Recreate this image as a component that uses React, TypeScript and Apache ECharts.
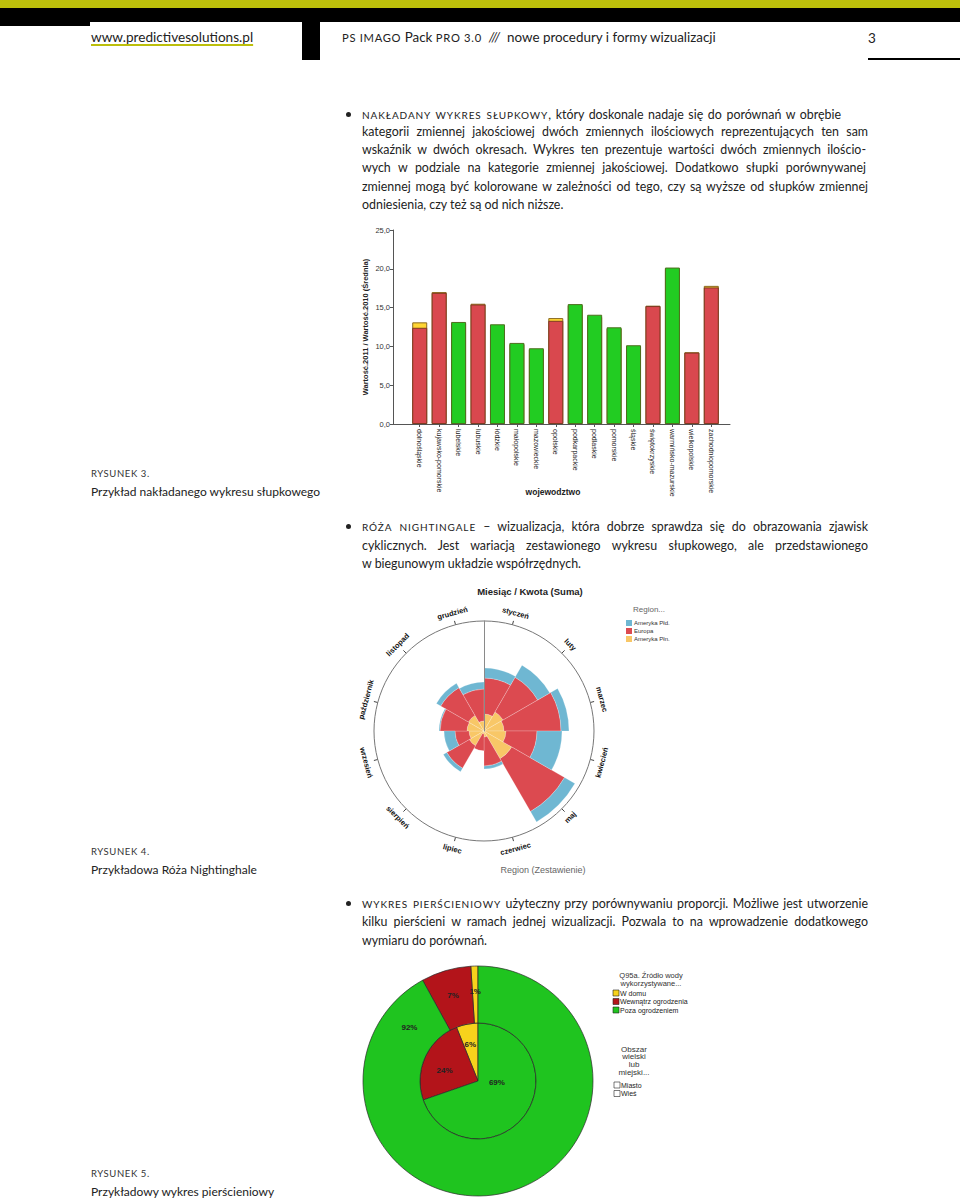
import React, { useEffect, useRef } from "react";
import * as echarts from "echarts";

const CF = "'Liberation Sans', Arial, sans-serif";
const TF = "Lato, 'Open Sans', sans-serif";

// ---- Rysunek 3: nakładany wykres słupkowy ----
const provinces = [
  "dolnośląskie", "kujawsko-pomorskie", "lubelskie", "lubuskie", "łódzkie", "małopolskie",
  "mazowieckie", "opolskie", "podkarpackie", "podlaskie", "pomorskie", "śląskie",
  "świętokrzyskie", "warmińsko-mazurskie", "wielkopolskie", "zachodniopomorskie",
];
const value2010 = [13.1, 17.0, 13.0, 15.5, 12.2, 10.3, 9.6, 13.65, 15.3, 13.8, 12.3, 10.0, 15.25, 20.0, 9.25, 17.8];
const value2011 = [12.4, 16.9, 13.15, 15.4, 12.85, 10.45, 9.76, 13.3, 15.45, 14.08, 12.46, 10.15, 15.2, 20.16, 9.2, 17.6];
const barYMax = 25;
const barYStep = 5;

// ---- Rysunek 4: róża Nightingale ----
const months = [
  "styczeń", "luty", "marzec", "kwiecień", "maj", "czerwiec",
  "lipiec", "sierpień", "wrzesień", "październik", "listopad", "grudzień",
];
const amerykaPln = [17, 22, 20, 22, 32, 6, 3, 17, 15, 17, 18, 10];
const europa = [36, 40, 57, 31, 61, 29, 17, 26, 14, 27, 32, 32];
const amerykaPld = [10, 14, 8, 25, 12, 3, 0, 4, 11, 1, 5, 7];
const roseMax = 110;
const roseRegions = ["Ameryka Płd.", "Europa", "Ameryka Płn."];

// ---- Rysunek 5: wykres pierścieniowy ----
const waterSources = ["W domu", "Wewnątrz ogrodzenia", "Poza ogrodzeniem"];
const miasto = [6, 24, 69];
const wies = [1, 7, 92];
const areas = ["Miasto", "Wieś"];

const C_BLUE = "#6FB7D2";
const C_RED = "#DC4A50";
const C_YEL = "#F8C767";
const R_YEL = "#F7D21C";
const R_RED = "#B3141A";
const R_GRN = "#1FC41F";

function App() {
  const ref = useRef<HTMLDivElement>(null);
  useEffect(() => {
    if (!ref.current) return;
    const chart = echarts.init(ref.current, null, { renderer: "svg" });

    const cx = 484, cy = 731, R = 110;
    const roseLabels = months.map((m, i) => {
      const deg = 15 + 30 * i;
      const rad = (deg * Math.PI) / 180;
      const lr = R + 12;
      const rot = deg > 90 && deg < 270 ? deg - 180 : deg;
      return {
        type: "text",
        x: cx + lr * Math.sin(rad),
        y: cy - lr * Math.cos(rad),
        rotation: (-rot * Math.PI) / 180,
        style: { text: m, font: `bold 7.5px ${CF}`, fill: "#111", align: "center", verticalAlign: "middle" },
      };
    });

    const pcx = 478, pcy = 1081;
    const ringPos = (ccwDeg: number, r: number) => {
      const a = (ccwDeg * Math.PI) / 180;
      return { x: pcx - r * Math.sin(a), y: pcy - r * Math.cos(a) };
    };

    const roseColors = [C_BLUE, C_RED, C_YEL];
    const ringColors = [R_YEL, R_RED, R_GRN];

    const option: any = {
      animation: false,
      backgroundColor: "transparent",
      textStyle: { fontFamily: CF },
      grid: [
        { left: 393, top: 230, width: 337, height: 194 },
        { left: 410, top: 230, width: 311, height: 194 },
      ],
      xAxis: [
        {
          gridIndex: 0, type: "value", min: 0, max: 1,
          axisLine: { show: true, lineStyle: { color: "#555", width: 1 } },
          axisTick: { show: false }, axisLabel: { show: false }, splitLine: { show: false },
        },
        {
          gridIndex: 1, type: "category", data: provinces,
          axisLine: { show: false },
          axisTick: { show: true, alignWithLabel: true, length: 3, lineStyle: { color: "#555" } },
          axisLabel: { rotate: -90, fontSize: 7, color: "#222", margin: 5, fontFamily: CF, interval: 0 },
        },
      ],
      yAxis: [
        {
          gridIndex: 0, type: "value", min: 0, max: barYMax, interval: barYStep,
          axisLine: { show: true, lineStyle: { color: "#555" } },
          axisTick: { show: true, length: 3, lineStyle: { color: "#555" } },
          axisLabel: { formatter: (v: number) => v.toFixed(1).replace(".", ","), fontSize: 7.5, color: "#333", margin: 3, fontFamily: CF },
          splitLine: { show: false },
          name: "Wartość.2011 / Wartość.2010 (Średnia)", nameLocation: "middle", nameGap: 24,
          nameTextStyle: { fontWeight: "bold", fontSize: 7.5, color: "#222", fontFamily: CF },
        },
        { gridIndex: 1, type: "value", min: 0, max: barYMax, show: false },
      ],
      polar: { center: [cx, cy], radius: R },
      angleAxis: {
        type: "category", data: months, startAngle: 90, clockwise: true,
        axisLine: { lineStyle: { color: "#777", width: 1 } },
        axisTick: { show: true, alignWithLabel: true, length: 4, lineStyle: { color: "#444" } },
        axisLabel: { show: false }, splitLine: { show: false },
      },
      radiusAxis: {
        type: "value", min: 0, max: roseMax,
        axisLine: { show: true, lineStyle: { color: "#8a8a8a", width: 1 } },
        axisTick: { show: false }, axisLabel: { show: false }, splitLine: { show: false },
        z: 5,
      },
      series: [
        {
          type: "bar", name: "2010", xAxisIndex: 1, yAxisIndex: 1, data: value2010, barWidth: 15,
          itemStyle: { color: "#FFD633", borderColor: "#8A6A22", borderWidth: 1 },
        },
        {
          type: "bar", name: "2011", xAxisIndex: 1, yAxisIndex: 1, barGap: "-100%", barWidth: 15,
          data: value2011.map((v, i) => ({
            value: v,
            itemStyle: v >= value2010[i]
              ? { color: "#22CC22", borderColor: "#4E6E1E", borderWidth: 1 }
              : { color: "#D9484E", borderColor: "#7E3A22", borderWidth: 1 },
          })),
        },
        ...[
          { name: roseRegions[2], data: amerykaPln, color: C_YEL },
          { name: roseRegions[1], data: europa, color: C_RED },
          { name: roseRegions[0], data: amerykaPld, color: C_BLUE },
        ].map((s) => ({
          type: "bar", coordinateSystem: "polar", stack: "rose", name: s.name, data: s.data,
          barCategoryGap: "0%",
          itemStyle: { color: s.color, borderColor: "rgba(255,255,255,0.35)", borderWidth: 0.6 },
          z: 2,
        })),
        {
          type: "pie", name: areas[0], center: [pcx, pcy], radius: [0, 58], startAngle: 90, clockwise: false,
          data: waterSources.map((n, i) => ({ name: n, value: miasto[i], itemStyle: { color: ringColors[i] } })),
          itemStyle: { borderColor: "#2a2a2a", borderWidth: 0.7 },
          label: { show: true, position: "inside", formatter: "{c}%", fontSize: 8, fontWeight: "bold", color: "#222", fontFamily: CF },
          labelLine: { show: false },
          emphasis: { disabled: true },
          labelLayout: (p: any) =>
            p.dataIndex === 0 ? ringPos(12, 37) : p.dataIndex === 1 ? ringPos(73, 35) : ringPos(264, 19),
        },
        {
          type: "pie", name: areas[1], center: [pcx, pcy], radius: [58, 115], startAngle: 90, clockwise: false,
          data: waterSources.map((n, i) => ({ name: n, value: wies[i], itemStyle: { color: ringColors[i] } })),
          itemStyle: { borderColor: "#2a2a2a", borderWidth: 0.7 },
          label: { show: true, position: "inside", formatter: "{c}%", fontSize: 8, fontWeight: "bold", color: "#222", fontFamily: CF },
          labelLine: { show: false },
          emphasis: { disabled: true },
          labelLayout: (p: any) => (p.dataIndex === 2 ? ringPos(52, 87) : {}),
        },
      ],
      graphic: [
        { type: "text", x: 553, y: 492, style: { text: "wojewodztwo", font: `bold 8.5px ${CF}`, fill: "#222", align: "center", verticalAlign: "middle" } },
        { type: "text", x: 530, y: 591, style: { text: "Miesiąc / Kwota (Suma)", font: `bold 9.5px ${CF}`, fill: "#222", align: "center", verticalAlign: "middle" } },
        ...roseLabels,
        { type: "text", x: 633, y: 609, style: { text: "Region...", font: `8px ${CF}`, fill: "#666", align: "left", verticalAlign: "middle" } },
        ...roseRegions.map((n, i) => ({
          type: "group", children: [
            { type: "rect", shape: { x: 626, y: 620 + 8 * i, width: 6, height: 6 }, style: { fill: roseColors[i] } },
            { type: "text", x: 634, y: 623 + 8 * i, style: { text: n, font: `6px ${CF}`, fill: "#333", align: "left", verticalAlign: "middle" } },
          ],
        })),
        { type: "text", x: 543, y: 870, style: { text: "Region (Zestawienie)", font: `9px ${CF}`, fill: "#666", align: "center", verticalAlign: "middle" } },
        { type: "text", x: 651, y: 975, style: { text: "Q95a. Źródło wody", font: `7.5px ${CF}`, fill: "#333", align: "center", verticalAlign: "middle" } },
        { type: "text", x: 651, y: 983, style: { text: "wykorzystywane...", font: `7.5px ${CF}`, fill: "#333", align: "center", verticalAlign: "middle" } },
        ...waterSources.map((n, i) => ({
          type: "group", children: [
            { type: "rect", shape: { x: 613, y: 990 + 8.5 * i, width: 6, height: 6 }, style: { fill: ringColors[i], stroke: "#222", lineWidth: 0.6 } },
            { type: "text", x: 620, y: 993 + 8.5 * i, style: { text: n, font: `7px ${CF}`, fill: "#222", align: "left", verticalAlign: "middle" } },
          ],
        })),
        ...["Obszar", "wielski", "lub", "miejski..."].map((t, i) => ({
          type: "text", x: 634, y: 1049 + 7.8 * i, style: { text: t, font: `8px ${CF}`, fill: "#333", align: "center", verticalAlign: "middle" },
        })),
        ...areas.map((n, i) => ({
          type: "group", children: [
            { type: "rect", shape: { x: 614, y: 1082 + 8.5 * i, width: 6, height: 6 }, style: { fill: "#fff", stroke: "#222", lineWidth: 0.6 } },
            { type: "text", x: 621, y: 1085 + 8.5 * i, style: { text: n, font: `7px ${CF}`, fill: "#222", align: "left", verticalAlign: "middle" } },
          ],
        })),
      ],
    };
    chart.setOption(option);
    return () => chart.dispose();
  }, []);

  const line = (x: number, y: number, w: number, content: React.ReactNode, justify = true, size = 12.4) => (
    <div
      style={{
        position: "absolute", left: x, top: y - 9, width: w, height: 18, lineHeight: "18px",
        fontSize: size, fontFamily: TF, color: "#222",
        textAlign: justify ? "justify" : "left", textAlignLast: justify ? "justify" : "left",
      } as React.CSSProperties}
    >
      {content}
    </div>
  );
  const sc = (t: string) => (
    <span style={{ fontSize: 10, letterSpacing: 0.9 }}>{t}</span>
  );
  const bullet = (y: number) => (
    <div style={{ position: "absolute", left: 346, top: y - 3, width: 5, height: 5, borderRadius: 3, background: "#222" }} />
  );
  const caption = (y: number, a: string, b: string) => (
    <>
      <div style={{ position: "absolute", left: 91, top: y - 7, fontFamily: TF, fontSize: 9.5, letterSpacing: 0.6, color: "#333", lineHeight: "14px" }}>{a}</div>
      <div style={{ position: "absolute", left: 91, top: y + 18 - 9, fontFamily: TF, fontSize: 12, color: "#222", lineHeight: "18px", whiteSpace: "nowrap" }}>{b}</div>
    </>
  );

  return (
    <div style={{ position: "absolute", left: 0, top: 0, width: 960, height: 1202, background: "#fff", overflow: "hidden" }}>
      {/* header */}
      <div style={{ position: "absolute", left: 0, top: 0, width: 960, height: 8, background: "#BCBF0B" }} />
      <div style={{ position: "absolute", left: 0, top: 8, width: 960, height: 14, background: "#000" }} />
      <div style={{ position: "absolute", left: 0, top: 8, width: 90, height: 18, background: "#000" }} />
      <div style={{ position: "absolute", left: 302, top: 8, width: 18, height: 52, background: "#000" }} />
      <div style={{ position: "absolute", left: 868, top: 58, width: 92, height: 2, background: "#000" }} />
      <div style={{ position: "absolute", left: 91, top: 28, fontFamily: TF, fontSize: 13.6, color: "#222", lineHeight: "18px", whiteSpace: "nowrap" }}>
        <span style={{ textDecoration: "underline", textDecorationColor: "#BCBF0B", textDecorationThickness: 2, textUnderlineOffset: 2 }}>www.predictivesolutions.pl</span>
      </div>
      <div style={{ position: "absolute", left: 342, top: 28, fontFamily: TF, fontSize: 13.4, color: "#222", lineHeight: "18px", whiteSpace: "nowrap" }}>
        <span style={{ fontSize: 11.2, letterSpacing: 0.7 }}>PS IMAGO</span> Pack <span style={{ fontSize: 11.2, letterSpacing: 0.7 }}>PRO 3.0</span>&nbsp; <i>///</i>&nbsp; nowe procedury i formy wizualizacji
      </div>
      <div style={{ position: "absolute", left: 868, top: 29, fontFamily: TF, fontSize: 13.5, color: "#222", lineHeight: "18px" }}>3</div>

      {/* paragraph 1 */}
      {bullet(115)}
      {line(362, 115, 479, <>{sc("NAKŁADANY WYKRES SŁUPKOWY")}, który doskonale nadaje się do porównań w obrębie</>)}
      {line(362, 132, 506, "kategorii zmiennej jakościowej dwóch zmiennych ilościowych reprezentujących ten sam")}
      {line(362, 150, 504, "wskaźnik w dwóch okresach. Wykres ten prezentuje wartości dwóch zmiennych ilościo-")}
      {line(362, 168, 504, "wych w podziale na kategorie zmiennej jakościowej. Dodatkowo słupki porównywanej")}
      {line(362, 187, 506, "zmiennej mogą być kolorowane w zależności od tego, czy są wyższe od słupków zmiennej")}
      {line(362, 205, 506, "odniesienia, czy też są od nich niższe.", false)}

      {caption(474, "RYSUNEK 3.", "Przykład nakładanego wykresu słupkowego")}

      {/* paragraph 2 */}
      {bullet(527)}
      {line(362, 527, 506, <>{sc("RÓŻA NIGHTINGALE")} – wizualizacja, która dobrze sprawdza się do obrazowania zjawisk</>)}
      {line(362, 546, 506, "cyklicznych. Jest wariacją zestawionego wykresu słupkowego, ale przedstawionego")}
      {line(362, 564, 506, "w biegunowym układzie współrzędnych.", false)}

      {caption(852, "RYSUNEK 4.", "Przykładowa Róża Nightinghale")}

      {/* paragraph 3 */}
      {bullet(904)}
      {line(362, 904, 506, <>{sc("WYKRES PIERŚCIENIOWY")} użyteczny przy porównywaniu proporcji. Możliwe jest utworzenie</>)}
      {line(362, 922, 506, "kilku pierścieni w ramach jednej wizualizacji. Pozwala to na wprowadzenie dodatkowego")}
      {line(362, 941, 506, "wymiaru do porównań.", false)}

      {caption(1174, "RYSUNEK 5.", "Przykładowy wykres pierścieniowy")}

      <div ref={ref} style={{ position: "absolute", left: 0, top: 0, width: 960, height: 1202 }} />
    </div>
  );
}

export default App;
